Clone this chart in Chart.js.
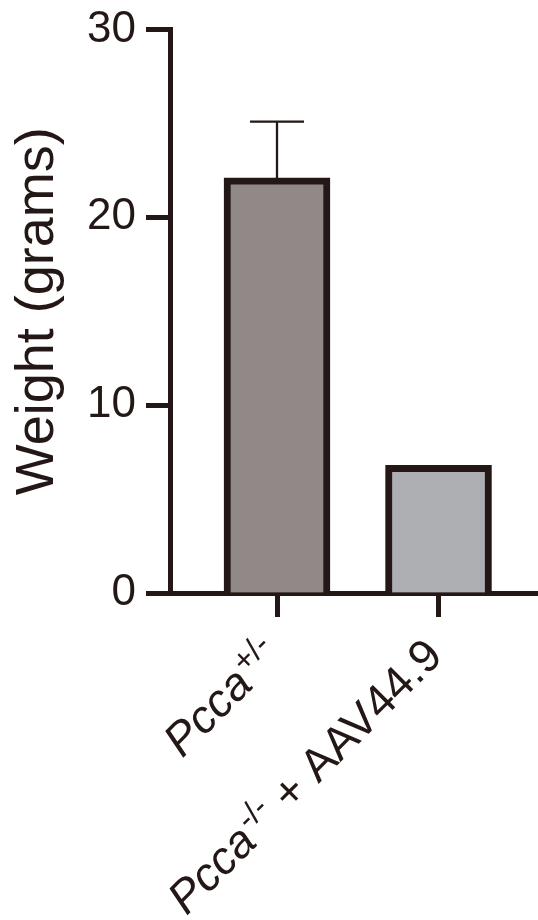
<!DOCTYPE html>
<html>
<head>
<meta charset="utf-8">
<script src="https://cdn.jsdelivr.net/npm/chart.js@4"></script>
<style>
html, body { margin: 0; padding: 0; background: #fff; }
</style>
</head>
<body>
<canvas id="weight_chart" width="538" height="920"></canvas>
<script>
const categories = ["Pcca+/-", "Pcca-/- + AAV44.9"];
const labelGene = ["Pcca", "Pcca"];
const labelGenotype = ["+/-", "-/-"];
const labelSuffix = ["", " + AAV44.9"];
const weights = [22.1, 6.8];
const weightErrors = [3.0, 0];
const yTicks = [0, 10, 20, 30];

const ink = "#231815";
const barColors = ["#918987", "#aeafb2"];
const fontFamily = "'Liberation Sans', Arial, sans-serif";

// error bar (mean + SEM) on top of each bar
const errorBars = {
    id: "errorBars",
    afterDatasetsDraw(chart) {
        const { ctx, scales: { x, y } } = chart;
        ctx.save();
        ctx.strokeStyle = ink;
        ctx.lineWidth = 2.3;
        weights.forEach((w, i) => {
            if (!weightErrors[i]) return;
            const px = x.getPixelForValue(i);
            const base = y.getPixelForValue(w);
            const top = y.getPixelForValue(w + weightErrors[i]);
            ctx.beginPath();
            ctx.moveTo(px, base);
            ctx.lineTo(px, top);
            ctx.moveTo(px - 27, top);
            ctx.lineTo(px + 27, top);
            ctx.stroke();
        });
        ctx.restore();
    }
};

// rotated category labels with italic gene name and superscript genotype
const xLabels = {
    id: "xLabels",
    afterDraw(chart) {
        const { ctx, scales: { x } } = chart;
        const size = 46;
        const supSize = 32;
        const mainFont = `${size}px ${fontFamily}`;
        const italicFont = `italic ${size}px ${fontFamily}`;
        const supFont = `${supSize}px ${fontFamily}`;
        ctx.save();
        ctx.fillStyle = ink;
        ctx.textBaseline = "alphabetic";
        ctx.textAlign = "left";
        categories.forEach((c, i) => {
            const parts = [
                { t: labelGene[i], f: italicFont, dy: 0, gap: 2 },
                { t: labelGenotype[i], f: supFont, dy: -16, gap: 0 },
                { t: labelSuffix[i], f: mainFont, dy: 0, gap: 0 }
            ];
            let total = 0;
            parts.forEach(p => { ctx.font = p.f; p.w = ctx.measureText(p.t).width + p.gap; total += p.w; });
            const px = x.getPixelForValue(i);
            ctx.save();
            ctx.translate(px + 6, x.top + 65);
            ctx.rotate(-Math.PI / 4);
            let cx = -total;
            parts.forEach(p => {
                ctx.font = p.f;
                ctx.fillText(p.t, cx, p.dy);
                cx += p.w;
            });
            ctx.restore();
        });
        ctx.restore();
    }
};

const ctx = document.getElementById("weight_chart").getContext("2d");
new Chart(ctx, {
    type: "bar",
    data: {
        datasets: [{
            data: weights.map((w, i) => ({ x: i, y: w })),
            backgroundColor: barColors,
            borderColor: ink,
            borderWidth: 7,
            borderSkipped: "start",
            barThickness: 106
        }]
    },
    options: {
        responsive: false,
        animation: false,
        devicePixelRatio: 1,
        layout: { padding: { top: 29.5, right: 0, bottom: 0, left: 0 } },
        plugins: {
            legend: { display: false },
            tooltip: { enabled: false }
        },
        scales: {
            x: {
                type: "linear",
                min: -0.6625,
                max: 1.616,
                offset: false,
                z: 1,
                afterBuildTicks: s => { s.ticks = categories.map((c, i) => ({ value: i })); },
                ticks: { display: false },
                grid: { offset: false, drawOnChartArea: false, tickLength: 24, tickWidth: 5, tickColor: ink },
                border: { width: 5, color: ink },
                afterFit: s => { s.height = 327; }
            },
            y: {
                min: 0,
                max: 30,
                afterBuildTicks: s => { s.ticks = yTicks.map(v => ({ value: v })); },
                ticks: { font: { family: fontFamily, size: 44 }, color: ink, padding: 10 },
                grid: { drawOnChartArea: false, tickLength: 24, tickWidth: 5, tickColor: ink },
                border: { width: 5, color: ink },
                title: {
                    display: true,
                    text: "Weight (grams)",
                    color: ink,
                    font: { family: fontFamily, size: 54 },
                    padding: { top: 6, bottom: 0 }
                },
                afterFit: s => { s.width = 170; s.paddingTop = 0; s.paddingBottom = 0; }
            }
        }
    },
    plugins: [errorBars, xLabels]
});
</script>
</body>
</html>
